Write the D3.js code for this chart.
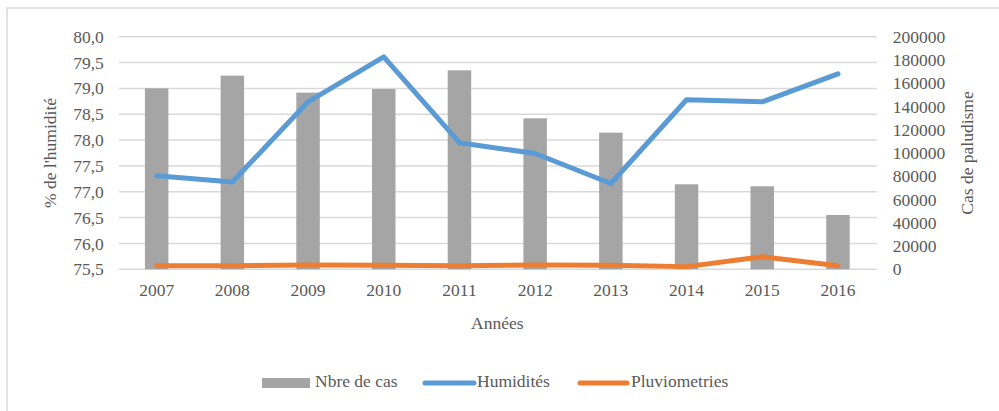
<!DOCTYPE html>
<html>
<head>
<meta charset="utf-8">
<script src="https://cdn.jsdelivr.net/npm/d3@7"></script>
<style>
  html, body { margin: 0; padding: 0; background: #ffffff; }
</style>
</head>
<body>
<svg id="chart" width="999" height="411"></svg>
<script>
const years = ["2007","2008","2009","2010","2011","2012","2013","2014","2015","2016"];
const cases = [155600, 166500, 151900, 155000, 171100, 129800, 117500, 73100, 71400, 46700];
const humidity = [77.31, 77.19, 78.74, 79.61, 77.95, 77.74, 77.16, 78.78, 78.74, 79.28];
const rainfall = [3100, 3000, 3800, 3400, 3000, 3600, 3400, 2300, 10800, 3000];
const leftTicks = [75.5, 76.0, 76.5, 77.0, 77.5, 78.0, 78.5, 79.0, 79.5, 80.0];
const rightTicks = [0, 20000, 40000, 60000, 80000, 100000, 120000, 140000, 160000, 180000, 200000];
const seriesNames = ["Nbre de cas", "Humidités", "Pluviometries"];
const colors = { bar: "#A5A5A5", hum: "#5B9BD5", rain: "#ED7D31" };

const svg = d3.select("#chart");
const fs = 17.5;
const ff = "'Liberation Serif'";
const styleText = sel => sel.style("font-family", ff).style("font-size", fs + "px").style("fill", "#595959");

// outer border
svg.append("rect").attr("x", 7).attr("y", 8).attr("width", 1000).attr("height", 420)
  .attr("fill", "none").attr("stroke", "#D9D9D9").attr("stroke-width", 1.5);

const x0 = 118.8, x1 = 875.8, yTop = 36.7, yBot = 269.3;
const x = d3.scaleBand().domain(years).range([x0, x1]).paddingInner(0).paddingOuter(0);
const yL = d3.scaleLinear().domain([75.5, 80]).range([yBot, yTop]);
const yR = d3.scaleLinear().domain([0, 200000]).range([yBot, yTop]);

// gridlines
svg.append("g").selectAll("line").data(leftTicks).join("line")
  .attr("x1", x0).attr("x2", x1 + 1)
  .attr("y1", d => yL(d)).attr("y2", d => yL(d))
  .attr("stroke", "#D9D9D9").attr("stroke-width", 1.5);

// left axis labels
const fmt = d => d.toFixed(1).replace(".", ",");
const axL = d3.axisLeft(yL).tickValues(leftTicks).tickFormat(fmt).tickSize(0).tickPadding(15);
const gL = svg.append("g").attr("transform", `translate(${x0},0)`).call(axL);
gL.select(".domain").remove();
gL.selectAll("text").call(styleText);

// right axis labels
const axR = d3.axisRight(yR).tickValues(rightTicks).tickFormat(d3.format("d")).tickSize(0).tickPadding(17);
const gR = svg.append("g").attr("transform", `translate(${x1},0)`).call(axR);
gR.select(".domain").remove();
gR.selectAll("text").call(styleText);

// x axis labels
const axX = d3.axisBottom(x).tickSize(0).tickPadding(14);
const gX = svg.append("g").attr("transform", `translate(0,${yBot})`).call(axX);
gX.select(".domain").remove();
gX.selectAll("text").call(styleText);

// bars
const bw = x.bandwidth() * 0.31;
svg.append("g").selectAll("rect").data(years).join("rect")
  .attr("x", d => x(d) + x.bandwidth() / 2 - bw / 2)
  .attr("width", bw)
  .attr("y", (d, i) => yR(cases[i]))
  .attr("height", (d, i) => yBot - yR(cases[i]))
  .attr("fill", colors.bar);

// lines
const cx = d => x(d) + x.bandwidth() / 2;
const lineHum = d3.line().x((d, i) => cx(years[i])).y(d => yL(d));
const lineRain = d3.line().x((d, i) => cx(years[i])).y(d => yR(d));
svg.append("path").datum(rainfall).attr("d", lineRain)
  .attr("fill", "none").attr("stroke", colors.rain).attr("stroke-width", 5)
  .attr("stroke-linecap", "round").attr("stroke-linejoin", "round");
svg.append("path").datum(humidity).attr("d", lineHum)
  .attr("fill", "none").attr("stroke", colors.hum).attr("stroke-width", 5)
  .attr("stroke-linecap", "round").attr("stroke-linejoin", "round");

// axis titles
svg.append("text").attr("transform", `translate(52,${(yTop + yBot) / 2}) rotate(-90)`)
  .attr("text-anchor", "middle").attr("dominant-baseline", "middle")
  .call(styleText).text("% de l'humidité");
svg.append("text").attr("transform", `translate(969,${(yTop + yBot) / 2}) rotate(-90)`)
  .attr("text-anchor", "middle").attr("dominant-baseline", "middle")
  .call(styleText).text("Cas de paludisme");
svg.append("text").attr("x", (x0 + x1) / 2).attr("y", 329)
  .attr("text-anchor", "middle").call(styleText).text("Années");

// legend
const lg = svg.append("g");
const ly = 383;
lg.append("rect").attr("x", 262).attr("y", ly - 5).attr("width", 48).attr("height", 10).attr("fill", colors.bar);
lg.append("text").attr("x", 315).attr("y", ly).attr("dominant-baseline", "middle").call(styleText).text(seriesNames[0]);
lg.append("line").attr("x1", 425).attr("x2", 474).attr("y1", ly).attr("y2", ly)
  .attr("stroke", colors.hum).attr("stroke-width", 5).attr("stroke-linecap", "round");
lg.append("text").attr("x", 477).attr("y", ly).attr("dominant-baseline", "middle").call(styleText).text(seriesNames[1]);
lg.append("line").attr("x1", 580).attr("x2", 627).attr("y1", ly).attr("y2", ly)
  .attr("stroke", colors.rain).attr("stroke-width", 5).attr("stroke-linecap", "round");
lg.append("text").attr("x", 631).attr("y", ly).attr("dominant-baseline", "middle").call(styleText).text(seriesNames[2]);
</script>
</body>
</html>
